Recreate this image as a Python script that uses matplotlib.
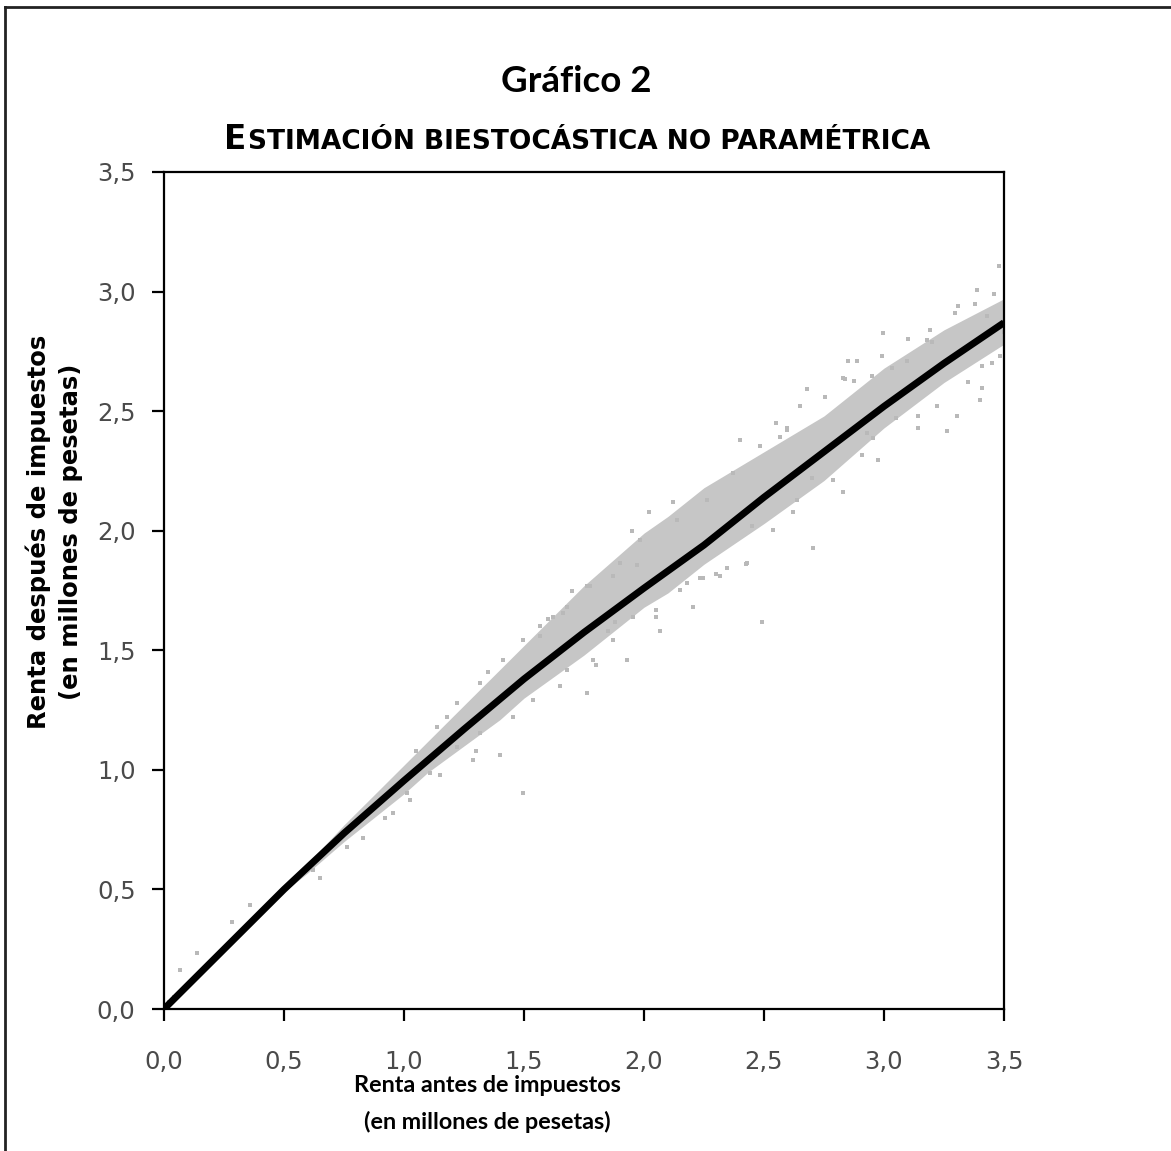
import matplotlib
matplotlib.use("Agg")
import matplotlib.pyplot as plt
from matplotlib.lines import Line2D

# ---------------- data ----------------
# non-parametric estimate (black line)
line_x = [0.0, 0.25, 0.5, 0.75, 1.0, 1.25, 1.5, 1.75, 2.0, 2.25, 2.5, 2.75, 3.0, 3.25, 3.5]
line_y = [0.0, 0.25, 0.50, 0.735, 0.955, 1.17, 1.38, 1.575, 1.76, 1.94, 2.14, 2.33, 2.52, 2.70, 2.87]

# dense core of the observation cloud (upper / lower envelope)
band_x = [0.3, 0.5, 0.6, 0.75, 0.85, 1.0, 1.1, 1.25, 1.4, 1.5, 1.75, 2.0, 2.1, 2.25, 2.5, 2.75, 3.0, 3.25, 3.5]
band_up = [0.30, 0.51, 0.61, 0.77, 0.87, 1.02, 1.12, 1.27, 1.42, 1.52, 1.77, 1.99, 2.06, 2.18, 2.33, 2.48, 2.68, 2.84, 2.97]
band_lo = [0.30, 0.49, 0.57, 0.70, 0.78, 0.90, 0.99, 1.10, 1.21, 1.30, 1.48, 1.68, 1.74, 1.86, 2.03, 2.21, 2.43, 2.62, 2.78]

# sparse observations around the core
obs_x = [2.995, 2.886, 2.99, 2.678, 2.754, 2.838, 2.875, 2.595, 2.483, 2.567,
         2.831, 2.706, 2.490, 2.424, 2.344, 2.247, 3.261, 3.143, 3.143, 3.219,
         3.40, 3.407, 3.407, 3.303, 2.976, 2.907, 2.789, 2.955, 3.31, 3.19,
         3.178, 3.483, 3.50, 3.428, 3.032, 3.094, 2.949, 3.48, 1.497, 2.067,
         1.40, 0.65, 0.622, 0.83, 0.761, 0.955, 1.025, 0.358, 0.282, 0.136,
         0.067, 1.011, 1.108, 1.22, 1.317, 1.289, 1.456, 1.539, 1.65, 1.678,
         1.789, 1.872, 1.956, 2.052, 2.15, 2.233, 1.761, 1.622, 1.497, 1.567,
         1.678, 1.872, 1.969, 1.414, 1.317, 1.22, 1.136, 2.594, 2.372, 2.261,
         2.136, 1.983, 1.90, 1.775, 1.664, 1.567, 1.761, 1.928, 2.206, 2.317,
         2.539, 2.636, 3.386, 3.296, 2.831, 2.428, 0.02, 0.04, 1.85, 2.70,
         3.05, 3.35, 3.45, 2.62, 2.30, 2.05, 1.80, 1.30, 1.15, 0.92,
         1.05, 1.18, 1.35, 1.60, 1.70, 1.95, 2.02, 2.12, 2.40, 2.55,
         2.65, 2.85, 3.10, 3.20, 3.38, 3.46, 1.88, 2.18, 2.45, 2.93]
obs_y = [2.827, 2.711, 2.729, 2.593, 2.561, 2.636, 2.628, 2.430, 2.353, 2.393,
         2.160, 1.928, 1.620, 1.862, 1.844, 1.802, 2.416, 2.430, 2.478, 2.520,
         2.548, 2.597, 2.688, 2.478, 2.297, 2.318, 2.213, 2.388, 2.941, 2.841,
         2.799, 2.729, 2.83, 2.897, 2.682, 2.708, 2.646, 3.106, 0.902, 1.579,
         1.063, 0.547, 0.582, 0.714, 0.679, 0.819, 0.874, 0.435, 0.365, 0.233,
         0.163, 0.902, 0.986, 1.097, 1.153, 1.042, 1.223, 1.293, 1.349, 1.418,
         1.460, 1.544, 1.641, 1.669, 1.753, 1.802, 1.767, 1.641, 1.544, 1.600,
         1.683, 1.809, 1.858, 1.460, 1.363, 1.279, 1.181, 2.423, 2.241, 2.130,
         2.046, 1.962, 1.865, 1.767, 1.656, 1.558, 1.321, 1.460, 1.683, 1.809,
         2.004, 2.130, 3.008, 2.911, 2.639, 1.865, 0.03, 0.05, 1.58, 2.22,
         2.47, 2.62, 2.70, 2.08, 1.82, 1.64, 1.44, 1.08, 0.98, 0.80,
         1.08, 1.22, 1.41, 1.63, 1.75, 2.00, 2.08, 2.12, 2.38, 2.45,
         2.52, 2.71, 2.80, 2.79, 2.95, 2.99, 1.62, 1.78, 2.02, 2.41]

x_ticks = [0.0, 0.5, 1.0, 1.5, 2.0, 2.5, 3.0, 3.5]
y_ticks = [0.0, 0.5, 1.0, 1.5, 2.0, 2.5, 3.0, 3.5]
tick_labels = ["0,0", "0,5", "1,0", "1,5", "2,0", "2,5", "3,0", "3,5"]

title = "Gráfico 2"
subtitle_first = "E"
subtitle_rest = "STIMACIÓN BIESTOCÁSTICA NO PARAMÉTRICA"
xlabel_lines = ["Renta antes de impuestos", "(en millones de pesetas)"]
ylabel_lines = ["Renta después de impuestos", "(en millones de pesetas)"]

# ---------------- figure ----------------
W, H = 1171, 1151
fig = plt.figure(figsize=(W / 100, H / 100), dpi=100)
fig.patch.set_facecolor("white")

def fx(px):
    return px / W

def fy(py):
    return 1 - py / H

ax = fig.add_axes([fx(164), fy(1009), fx(1004) - fx(164), fy(172) - fy(1009)])

ax.fill_between(band_x, band_lo, band_up, color="#c6c6c6", lw=0, zorder=1)
ax.scatter(obs_x, obs_y, s=10, marker="s", color="#b9b9b9", linewidths=0, zorder=2)
ax.plot(line_x, line_y, color="black", lw=5.0, solid_capstyle="butt",
        solid_joinstyle="round", zorder=3)

ax.set_xlim(0, 3.5)
ax.set_ylim(0, 3.5)
ax.set_xticks(x_ticks)
ax.set_yticks(y_ticks)
ax.set_xticklabels(tick_labels)
ax.set_yticklabels(tick_labels)

for s in ax.spines.values():
    s.set_linewidth(1.6)
    s.set_color("black")

ax.tick_params(axis="both", direction="out", length=8.5, width=1.6, color="black",
               labelsize=17.5, labelcolor="#4a4a4a")
ax.tick_params(axis="x", pad=21)
ax.tick_params(axis="y", pad=12)
for lab in ax.get_xticklabels() + ax.get_yticklabels():
    lab.set_fontfamily("DejaVu Sans")

# titles
fig.text(fx(576), fy(82), title, ha="center", va="center", fontsize=26.5,
         family="Lato", weight="bold", color="black")

fig.canvas.draw()
r = fig.canvas.get_renderer()
sfont = dict(family="DejaVu Sans", weight="bold", color="black")
t1 = fig.text(0, 0, subtitle_first, ha="left", va="baseline", fontsize=23.5, **sfont)
t2 = fig.text(0, 0, subtitle_rest, ha="left", va="baseline", fontsize=19.0, **sfont)
w1 = t1.get_window_extent(r).width
w2 = t2.get_window_extent(r).width
total = w1 + w2 + 1
x0 = 577 - total / 2
baseline = fy(149)
t1.set_position((fx(x0), baseline))
t2.set_position((fx(x0 + w1 + 1), baseline))

# axis labels
lfont = dict(family="Lato", weight="bold", color="black", fontsize=16.8)
fig.text(fx(487), fy(1086), xlabel_lines[0], ha="center", va="center", **lfont)
fig.text(fx(487), fy(1122), xlabel_lines[1], ha="center", va="center", **lfont)
yfont = dict(family="DejaVu Sans", weight="bold", color="black", fontsize=17.5)
fig.text(fx(38), fy(532), ylabel_lines[0], ha="center", va="center", rotation=90, **yfont)
fig.text(fx(71), fy(532), ylabel_lines[1], ha="center", va="center", rotation=90, **yfont)

# outer frame (top and left only)
fig.add_artist(Line2D([fx(5), 1.0], [fy(7), fy(7)], color="#222222", lw=2.0))
fig.add_artist(Line2D([fx(5), fx(5)], [fy(7), 0.0], color="#222222", lw=2.0))

fig.savefig("out.png", dpi=100, facecolor="white")
